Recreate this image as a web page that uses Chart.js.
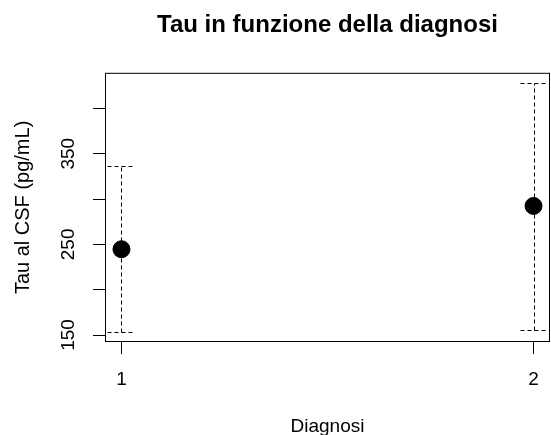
<!DOCTYPE html>
<html>
<head>
<meta charset="utf-8">
<script src="https://cdn.jsdelivr.net/npm/chart.js@4.4.1/dist/chart.umd.min.js"></script>
<style>
  body { margin: 0; background: #fff; }
  canvas { display: block; }
</style>
</head>
<body>
<canvas id="tauChart" width="551" height="435"></canvas>
<script>
// Dati
const diagnosi = [1, 2];
const tauMedia = [244.6, 292.4];
const tauInf = [153.4, 155.5];
const tauSup = [336.0, 427.8];

const xTicks = [1, 2];
const yTicks = [150, 200, 250, 300, 350, 400];
const yLabels = [150, 250, 350];

const FONT = "'Liberation Sans', Arial, sans-serif";

// barre di errore tratteggiate + cornice + etichette assi (stile R)
const rStyle = {
    id: 'rStyle',
    beforeDatasetsDraw(chart) {
        const ctx = chart.ctx;
        const xs = chart.scales.x, ys = chart.scales.y;
        const cap = 14;
        ctx.save();
        ctx.strokeStyle = '#000';
        ctx.lineWidth = 1;
        ctx.setLineDash([4, 3]);
        diagnosi.forEach((d, i) => {
            const px = Math.round(xs.getPixelForValue(d)) + 0.5;
            const yLo = Math.round(ys.getPixelForValue(tauInf[i])) + 0.5;
            const yHi = Math.round(ys.getPixelForValue(tauSup[i])) + 0.5;
            ctx.beginPath();
            ctx.moveTo(px, yLo); ctx.lineTo(px, yHi);
            ctx.moveTo(px - cap, yLo); ctx.lineTo(px + cap, yLo);
            ctx.moveTo(px - cap, yHi); ctx.lineTo(px + cap, yHi);
            ctx.stroke();
        });
        ctx.restore();
    },
    afterDraw(chart) {
        const ctx = chart.ctx;
        const a = chart.chartArea;
        const xs = chart.scales.x, ys = chart.scales.y;
        ctx.save();
        ctx.strokeStyle = '#000';
        ctx.lineWidth = 1;
        ctx.strokeRect(a.left + 0.5, a.top + 0.5, a.right - a.left - 1, a.bottom - a.top - 1);
        ctx.fillStyle = '#000';
        ctx.font = '19px ' + FONT;
        ctx.textAlign = 'center';
        ctx.textBaseline = 'alphabetic';
        xTicks.forEach(v => {
            ctx.fillText(String(v), xs.getPixelForValue(v), 385);
        });
        yLabels.forEach(v => {
            ctx.save();
            ctx.translate(74, ys.getPixelForValue(v));
            ctx.rotate(-Math.PI / 2);
            ctx.fillText(String(v), 0, 0);
            ctx.restore();
        });
        ctx.restore();
    }
};

new Chart(document.getElementById('tauChart'), {
    type: 'scatter',
    data: {
        datasets: [{
            data: diagnosi.map((d, i) => ({ x: d, y: tauMedia[i] })),
            backgroundColor: '#000',
            borderColor: '#000',
            borderWidth: 1,
            pointRadius: 8.5,
            pointHoverRadius: 8.5
        }]
    },
    options: {
        responsive: false,
        animation: false,
        layout: { autoPadding: false, padding: { left: 0, right: 1, top: 0, bottom: 0 } },
        plugins: {
            legend: { display: false },
            tooltip: { enabled: false },
            title: {
                display: true,
                text: 'Tau in funzione della diagnosi',
                color: '#000',
                fullSize: false,
                font: { family: FONT, size: 24, weight: 'bold' },
                padding: { top: 11, bottom: 33 }
            }
        },
        scales: {
            x: {
                type: 'linear',
                min: 0.96,
                max: 2.04,
                afterBuildTicks: s => { s.ticks = xTicks.map(v => ({ value: v })); },
                afterFit: s => { s.height = 93; },
                grid: { drawOnChartArea: false, drawTicks: true, tickLength: 12, color: '#000' },
                border: { display: false },
                ticks: { display: false },
                title: {
                    display: true,
                    text: 'Diagnosi',
                    color: '#000',
                    font: { family: FONT, size: 19 },
                    padding: { top: 0, bottom: -3 }
                }
            },
            y: {
                type: 'linear',
                min: 142.3,
                max: 439.3,
                afterBuildTicks: s => { s.ticks = yTicks.map(v => ({ value: v })); },
                afterFit: s => { s.width = 105; },
                grid: { drawOnChartArea: false, drawTicks: true, tickLength: 12, color: '#000' },
                border: { display: false },
                ticks: { display: false },
                title: {
                    display: true,
                    text: 'Tau al CSF (pg/mL)',
                    color: '#000',
                    font: { family: FONT, size: 20 },
                    padding: { top: 11, bottom: 0 }
                }
            }
        }
    },
    plugins: [rStyle]
});
</script>
</body>
</html>
